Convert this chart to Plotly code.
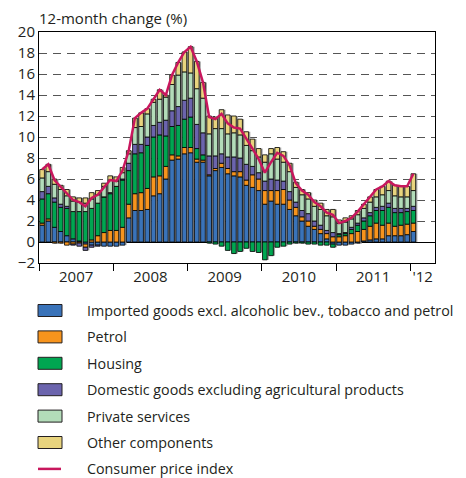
import plotly.graph_objects as go

# monthly, Jan 2007 - Jan 2012 (contributions to 12-month CPI change, %-points)
months = list(range(61))

imported = [1.6, 2.0, 1.4, 1.0, 0.6, 0.3, 0.1, -0.2, -0.3, -0.3, -0.4, -0.4,
            -0.4, -0.3, 2.3, 3.0, 3.0, 3.1, 4.4, 4.6, 6.0, 7.8, 7.9, 8.4,
            8.5, 7.6, 7.6, 6.3, 6.8, 7.1, 6.5, 6.3, 6.2, 5.4, 5.2, 4.9,
            3.6, 3.9, 3.6, 3.6, 3.1, 2.5, 2.0, 1.5, 1.2, 0.8, 0.3, -0.2,
            -0.3, -0.3, -0.2, -0.1, 0.1, 0.2, 0.3, 0.3, 0.6, 0.6, 0.6, 0.7,
            1.0]
petrol = [0.2, 0.2, -0.1, -0.1, -0.3, -0.2, -0.1, -0.3, 0.2, 0.6, 0.9, 1.1,
          1.1, 1.4, 1.3, 1.6, 1.7, 2.0, 1.8, 1.7, 1.2, 0.5, 0.3, 0.6,
          0.5, 0.3, 0.2, 0.1, 0.2, 0.4, 0.5, 0.4, 0.5, 0.5, 1.2, 1.1,
          1.3, 1.0, 1.3, 1.4, 0.9, 0.8, 0.4, 0.5, 0.3, 0.4, 0.5, 0.5,
          0.5, 0.6, 0.8, 1.0, 1.1, 1.3, 1.5, 1.3, 1.2, 0.9, 1.0, 1.0,
          0.8]
housing = [2.3, 2.4, 2.4, 2.3, 2.6, 2.6, 2.8, 2.9, 3.0, 3.1, 3.4, 3.5,
           4.2, 4.5, 3.2, 3.8, 3.8, 4.1, 3.8, 3.9, 2.9, 2.7, 2.9, 2.7,
           2.9, 1.0, 0.5, -0.1, -0.2, -0.4, -0.8, -1.1, -0.9, -0.6, -0.9, -1.0,
           -1.7, -1.3, -0.5, -0.4, -0.2, -0.1, -0.1, -0.2, -0.2, -0.3, -0.3, -0.3,
           0.2, 0.2, 0.4, 0.6, 0.8, 1.0, 1.2, 1.4, 1.5, 1.3, 1.2, 1.2,
           1.2]
domestic = [0.7, 0.7, 0.4, 0.3, 0.2, -0.1, -0.3, -0.3, -0.2, -0.1, 0.0, 0.1,
            0.0, 0.1, 0.7, 0.9, 0.8, 0.8, 1.1, 1.2, 1.5, 1.5, 1.8, 1.8,
            1.8, 2.3, 2.1, 1.8, 1.2, 0.9, 1.1, 1.4, 1.3, 1.5, 0.8, 0.6,
            0.9, 1.1, 1.0, 0.8, 0.8, 0.5, 0.6, 0.7, 0.5, 0.4, 0.3, 0.4,
            0.1, 0.1, 0.2, 0.2, 0.3, 0.3, 0.3, 0.4, 0.4, 0.4, 0.4, 0.3,
            0.4]
services = [1.3, 1.4, 1.3, 1.4, 1.0, 1.0, 0.9, 0.8, 0.9, 0.8, 1.0, 1.2,
            0.5, 0.6, 0.9, 1.6, 1.7, 2.2, 2.2, 2.2, 2.2, 2.5, 3.0, 2.7,
            2.4, 3.4, 3.3, 2.1, 2.6, 2.4, 2.2, 2.3, 2.2, 1.8, 1.5, 1.5,
            1.8, 2.4, 2.0, 1.8, 1.9, 1.4, 1.5, 1.4, 1.4, 1.5, 1.4, 1.5,
            1.0, 1.0, 0.8, 0.8, 0.9, 1.0, 1.0, 1.1, 1.2, 1.2, 1.1, 1.1,
            1.5]
other = [0.8, 0.7, 0.5, 0.4, 0.6, 0.4, 0.4, 0.5, 0.6, 0.4, 0.3, 0.4,
         0.4, 0.5, 0.3, 0.9, 1.3, 0.5, 0.3, 0.9, 0.2, 0.9, 1.2, 1.9,
         2.5, 2.6, 1.5, 1.7, 1.1, 1.8, 1.8, 1.6, 1.5, 1.3, 1.1, 0.8,
         0.7, 0.5, 1.1, 1.0, 0.8, 0.5, 0.5, 0.6, 0.6, 0.6, 0.6, 0.7,
         0.3, 0.4, 0.3, 0.4, 0.4, 0.5, 0.7, 0.8, 0.9, 1.0, 1.0, 1.0,
         1.6]
cpi = [6.9, 7.4, 5.9, 5.3, 4.7, 4.0, 3.8, 3.4, 4.2, 4.5, 5.2, 5.9,
       5.8, 6.8, 8.7, 11.8, 12.3, 12.7, 13.6, 14.5, 14.0, 15.9, 17.1, 18.1,
       18.6, 17.2, 15.2, 11.9, 11.7, 12.2, 11.3, 10.9, 10.8, 9.9, 8.9, 7.9,
       6.6, 7.6, 8.5, 8.2, 7.3, 5.6, 4.9, 4.5, 3.8, 3.4, 2.8, 2.6,
       1.8, 2.0, 2.3, 2.9, 3.6, 4.3, 5.0, 5.3, 5.8, 5.4, 5.3, 5.3,
       6.5]

year_centers = [5.5, 17.5, 29.5, 41.5, 53.5, 61.5]
year_labels = ['2007', '2008', '2009', '2010', '2011', "'12"]
year_bounds = [-0.5, 11.5, 23.5, 35.5, 47.5, 59.5]

series = [
    ('Imported goods excl. alcoholic bev., tobacco and petrol', imported, '#3a73b9'),
    ('Petrol', petrol, '#f7941d'),
    ('Housing', housing, '#00a651'),
    ('Domestic goods excluding agricultural products', domestic, '#6b64ad'),
    ('Private services', services, '#b3dcb9'),
    ('Other components', other, '#e8d47e'),
]
cpi_name = 'Consumer price index'
cpi_color = '#c8175d'

# the page body keeps its default 8px margin, so the figure is 8px smaller
OFF = 8
W, H = 466 - OFF, 478 - OFF
L, R, T, B = 39 - OFF, 31, 32 - OFF, 215
pw, ph = W - L - R, H - T - B

fig = go.Figure()

# grey shadow behind each stacked bar
comps = [s[1] for s in series]
pos_tot = [sum(v for v in col if v > 0) for col in zip(*comps)]
neg_tot = [sum(v for v in col if v < 0) for col in zip(*comps)]
for tot in (pos_tot, neg_tot):
    fig.add_trace(go.Bar(x=months, y=tot, width=0.8, offset=-0.15,
                         marker=dict(color='#a5a5a5', line=dict(width=0)),
                         showlegend=False, hoverinfo='skip',
                         xaxis='x', yaxis='y'))

for name, vals, col in series:
    fig.add_trace(go.Bar(x=months, y=vals, name=name, width=0.75,
                         marker=dict(color=col, line=dict(color='black', width=0.8)),
                         showlegend=False, xaxis='x2', yaxis='y'))

fig.add_trace(go.Scatter(x=months, y=cpi, mode='lines', name=cpi_name,
                         line=dict(color=cpi_color, width=2.5),
                         showlegend=False, xaxis='x2', yaxis='y'))

# legend below the plot, wide swatches like the original (screen pixels -> paper)
def px_x(p):
    return (p - OFF - L) / pw
def px_y(p):
    return (H - B - (p - OFF)) / ph

shapes, annots = [], []
entries = [(n, c) for n, _, c in series] + [(cpi_name, None)]
for i, (name, col) in enumerate(entries):
    cy = 310.5 + i * 26.4
    if col:
        shapes.append(dict(type='rect', xref='paper', yref='paper',
                           x0=px_x(38), x1=px_x(62), y0=px_y(cy - 6), y1=px_y(cy + 6),
                           fillcolor=col, line=dict(color='#231f20', width=1)))
    else:
        shapes.append(dict(type='line', xref='paper', yref='paper',
                           x0=px_x(38), x1=px_x(61), y0=px_y(cy), y1=px_y(cy),
                           line=dict(color=cpi_color, width=2.5)))
    annots.append(dict(text=name, xref='paper', yref='paper', x=px_x(85), y=px_y(cy),
                       xanchor='left', yanchor='middle', showarrow=False,
                       font=dict(size=14.3)))

annots.append(dict(text='12-month change (%)', xref='paper', yref='paper',
                   x=0, y=1, xanchor='left', yanchor='bottom', showarrow=False,
                   xshift=-2, yshift=2, font=dict(size=15)))

xr = [-0.5, 63.5]
fig.update_layout(
    width=W, height=H,
    margin=dict(l=L, r=R, t=T, b=B),
    paper_bgcolor='white', plot_bgcolor='white',
    font=dict(family='Open Sans', size=15, color='#231f20'),
    barmode='relative', bargap=0.2, showlegend=False,
    xaxis=dict(range=xr, tickmode='array', tickvals=year_centers, ticktext=year_labels,
               ticks='', showgrid=False, zeroline=False, automargin=False,
               showline=True, linecolor='black', linewidth=1, mirror=True,
               minor=dict(tickmode='array', tickvals=year_bounds, ticks='outside',
                          ticklen=7, tickcolor='black', showgrid=False)),
    xaxis2=dict(range=xr, overlaying='x', visible=False),
    yaxis=dict(range=[-2, 20], dtick=2, showline=True, linecolor='black', linewidth=1,
               mirror=True, ticks='', showgrid=True, gridcolor='#555555',
               griddash='8px,6px', gridwidth=1, automargin=False,
               zeroline=True, zerolinecolor='black', zerolinewidth=1),
    shapes=shapes,
    annotations=annots,
)

fig.write_html('out.html')
